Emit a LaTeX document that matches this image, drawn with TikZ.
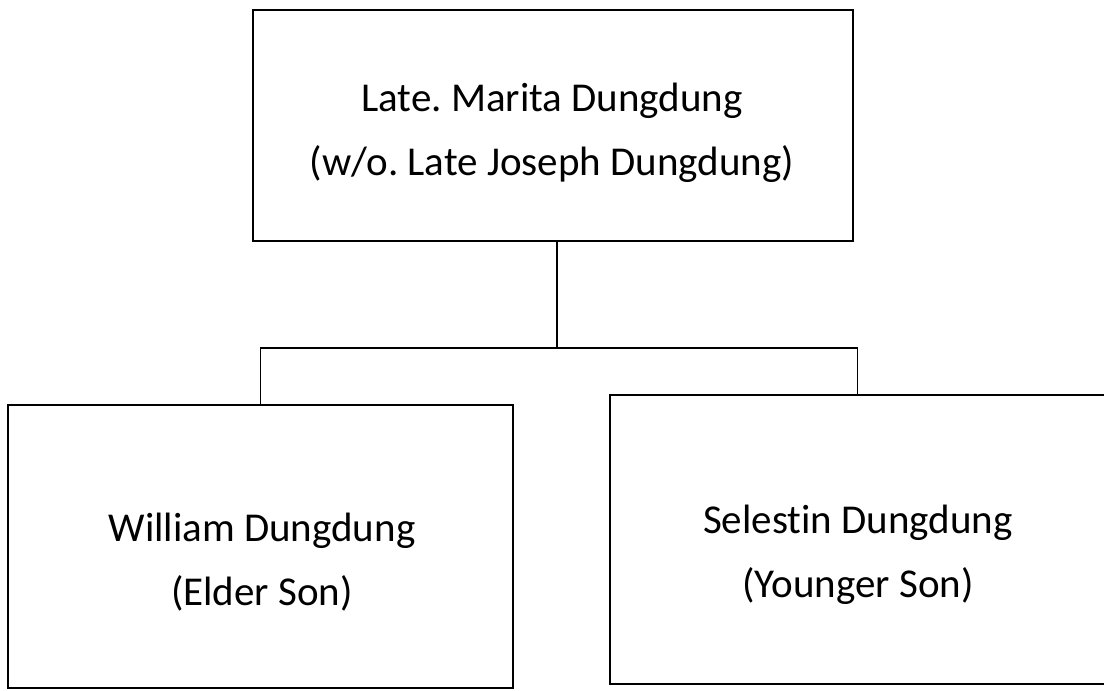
\documentclass[tikz,border=0pt]{standalone}
\usepackage{fontspec}
\setmainfont[Ligatures = NoCommon]{Carlito}
\frenchspacing
\begin{document}
\begin{tikzpicture}[x = 1pt, y = -1pt,
    person/.style = {draw = black, line width = 1.8pt, inner sep = 0pt},
    person text/.style = {align = center, font = \fontsize{41}{64}\selectfont},
    link/.style = {draw = black, line width = 1.8pt}]

    \useasboundingbox (0, 0) rectangle (1104, 691);

    % parent
    \node [person, minimum width = 600pt, minimum height = 231pt] (mother) at (553, 125.5) {};
    \node [person text] (mother text) at (552, 133) {Late. Marita Dungdung\\(w/o. Late Joseph Dungdung)};

    % children
    \node [person, minimum width = 505pt, minimum height = 283pt] (elder) at (260.5, 546.5) {};
    \node [person text] (elder text) at (262, 562) {William Dungdung\\(Elder Son)};

    \node [person, minimum width = 495pt, minimum height = 289pt] (younger) at (857.5, 539.5) {};
    \node [person text] (younger text) at (858, 555) {Selestin Dungdung\\(Younger Son)};

    % connectors
    \coordinate (fork) at (557, 348);
    \draw [link] (mother.south -| fork) -- (fork);
    \draw [link] (elder.north) |- (fork) -| (younger.north);
\end{tikzpicture}
\end{document}
